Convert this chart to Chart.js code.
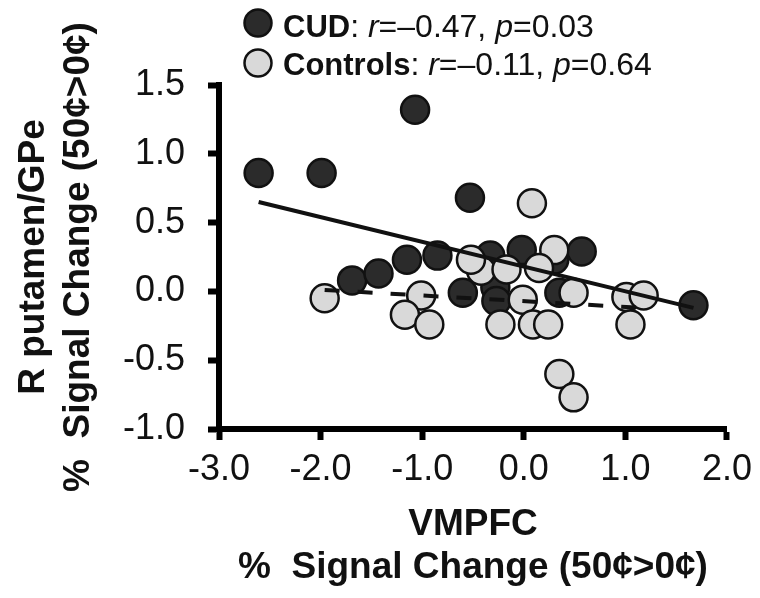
<!DOCTYPE html>
<html>
<head>
<meta charset="utf-8">
<script src="https://cdn.jsdelivr.net/npm/chart.js@4.4.0/dist/chart.umd.min.js"></script>
<style>
    html, body { margin: 0; padding: 0; background: #ffffff; }
</style>
</head>
<body>
<canvas id="chart" width="760" height="598"></canvas>
<script>
// CUD group
var cudX = [-2.61, -1.99, -1.07, -0.53, -1.69, -1.43, -1.15, -0.85, -0.33, -0.02, 0.57, -0.60, -0.28, 0.35, 1.67, 0.30, -0.27];
var cudY = [0.86, 0.86, 1.32, 0.68, 0.08, 0.13, 0.23, 0.26, 0.26, 0.30, 0.29, -0.01, 0.03, -0.01, -0.10, 0.23, -0.07];

// Controls group
var ctrlX = [0.08, 0.30, -0.42, -0.17, 0.15, -0.52, -1.01, -1.17, -0.93, -0.01, -0.23, 0.09, 0.24, 0.49, 1.01, 1.18, 1.05, 0.35, 0.49, -1.96];
var ctrlY = [0.64, 0.30, 0.15, 0.16, 0.17, 0.23, -0.03, -0.17, -0.24, -0.06, -0.24, -0.24, -0.24, -0.01, -0.04, -0.03, -0.24, -0.60, -0.77, -0.05];

// fit lines (end points)
var cudFitX = [-2.61, 1.67];
var cudFitY = [0.65, -0.12];
var ctrlFitX = [-1.96, 1.18];
var ctrlFitY = [0.01, -0.12];

// legend text
var groupNames = ["CUD", "Controls"];
var rValues = ["\u20130.47", "\u20130.11"];
var pValues = ["0.03", "0.64"];

var xTicks = [-3, -2, -1, 0, 1, 2];
var yTicks = [-1, -0.5, 0, 0.5, 1, 1.5];

var DARK = '#2b2b2b';
var LIGHT = '#d9d9d9';
var INK = '#111111';
var FONT = "'Liberation Sans', Arial, sans-serif";

function toPoints(xs, ys) {
    return xs.map((x, i) => ({ x: x, y: ys[i] }));
}

// legend with mixed bold / italic text
var statLegend = {
    id: 'statLegend',
    afterDraw(chart) {
        var ctx = chart.ctx;
        var fills = [DARK, LIGHT];
        ctx.save();
        groupNames.forEach((name, i) => {
            var cy = 23 + 40 * i;
            ctx.beginPath();
            ctx.arc(258, cy, 13.5, 0, Math.PI * 2);
            ctx.fillStyle = fills[i];
            ctx.fill();
            ctx.lineWidth = 2.5;
            ctx.strokeStyle = INK;
            ctx.stroke();

            var parts = [
                ['bold', name],
                ['normal', ': '],
                ['italic', 'r'],
                ['normal', '=' + rValues[i] + ', '],
                ['italic', 'p'],
                ['normal', '=' + pValues[i]]
            ];
            var x = 283;
            var baseline = 37 + 38 * i;
            ctx.fillStyle = INK;
            ctx.textBaseline = 'alphabetic';
            ctx.textAlign = 'left';
            parts.forEach(p => {
                var font = p[0] == 'bold' ? "bold 31px " : (p[0] == 'italic' ? "italic 32px " : "32px ");
                ctx.font = font + FONT;
                ctx.fillText(p[1], x, baseline);
                x += ctx.measureText(p[1]).width;
            });
        });
        ctx.restore();
    }
};

var chart = new Chart(document.getElementById('chart'), {
    type: 'scatter',
    data: {
        datasets: [
            {
                label: 'CUD fit',
                data: toPoints(cudFitX, cudFitY),
                showLine: true,
                borderColor: INK,
                borderWidth: 4,
                pointRadius: 0,
                order: 0
            },
            {
                label: 'Controls fit',
                data: toPoints(ctrlFitX, ctrlFitY),
                showLine: true,
                borderColor: INK,
                borderWidth: 4,
                borderDash: [15, 18],
                pointRadius: 0,
                order: 1
            },
            {
                label: 'Controls',
                data: toPoints(ctrlX, ctrlY),
                backgroundColor: LIGHT,
                borderColor: INK,
                borderWidth: 2.5,
                pointRadius: 14,
                order: 2
            },
            {
                label: 'CUD',
                data: toPoints(cudX, cudY),
                backgroundColor: DARK,
                borderColor: INK,
                borderWidth: 2.5,
                pointRadius: 14,
                order: 3
            }
        ]
    },
    options: {
        responsive: false,
        animation: false,
        devicePixelRatio: 1,
        events: [],
        layout: {
            padding: { top: 85, right: 29, bottom: 0, left: 0 }
        },
        plugins: {
            legend: { display: false },
            tooltip: { enabled: false }
        },
        scales: {
            x: {
                type: 'linear',
                min: -3,
                max: 2,
                afterBuildTicks: scale => { scale.ticks = xTicks.map(v => ({ value: v })); },
                afterFit: scale => { scale.height = 169; },
                border: { display: true, color: '#000', width: 6 },
                grid: { drawOnChartArea: false, drawTicks: true, tickLength: 11, tickWidth: 6, tickColor: '#000' },
                ticks: {
                    padding: 8,
                    color: INK,
                    font: { family: FONT, size: 36 },
                    callback: v => v.toFixed(1)
                },
                title: {
                    display: true,
                    text: ['VMPFC', '%  Signal Change (50\u00a2>0\u00a2)'],
                    color: INK,
                    font: { family: FONT, size: 37, weight: 'bold', lineHeight: 1.16 },
                    padding: { top: 0, bottom: 9 }
                }
            },
            y: {
                type: 'linear',
                min: -1,
                max: 1.5,
                afterBuildTicks: scale => { scale.ticks = yTicks.map(v => ({ value: v })); },
                afterFit: scale => { scale.width = 219; },
                border: { display: true, color: '#000', width: 6 },
                grid: { drawOnChartArea: false, drawTicks: true, tickLength: 11, tickWidth: 6, tickColor: '#000' },
                ticks: {
                    padding: 23,
                    color: INK,
                    font: { family: FONT, size: 36 },
                    callback: v => v.toFixed(1)
                },
                title: {
                    display: true,
                    text: ['R putamen/GPe', '%  Signal Change (50\u00a2>0\u00a2)'],
                    color: INK,
                    font: { family: FONT, size: 37, weight: 'bold', lineHeight: 1.2 },
                    padding: { top: 12, bottom: 0 }
                }
            }
        }
    },
    plugins: [statLegend]
});
</script>
</body>
</html>
